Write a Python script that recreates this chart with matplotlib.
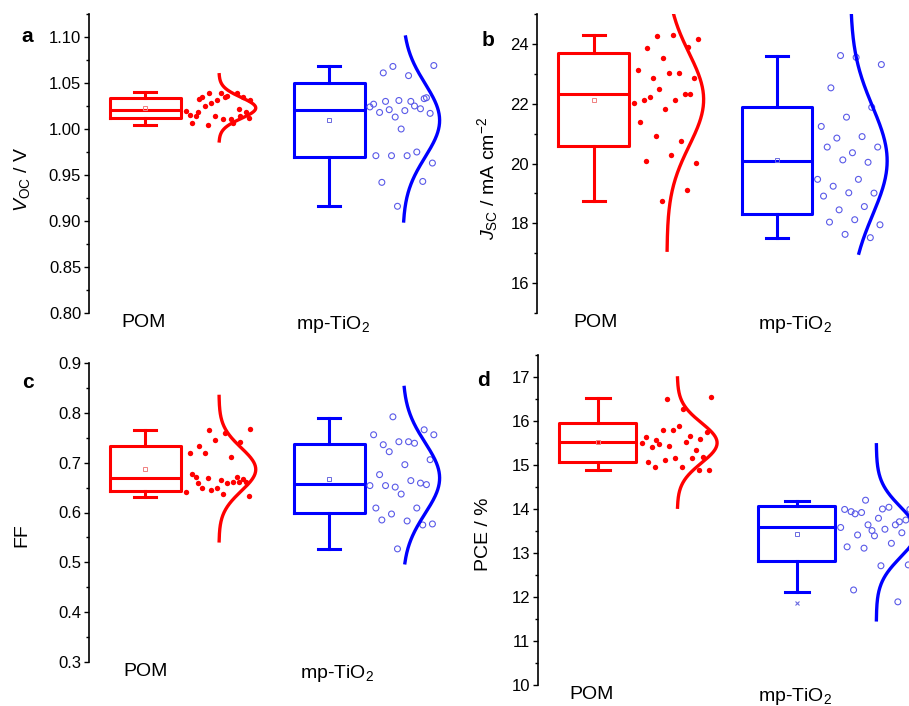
import numpy as np
import matplotlib
matplotlib.use('Agg')
import matplotlib.pyplot as plt
from matplotlib.ticker import MultipleLocator, FormatStrFormatter

plt.rcParams['font.family'] = ['Liberation Sans', 'DejaVu Sans']
plt.rcParams['mathtext.fontset'] = 'custom'
plt.rcParams['mathtext.rm'] = 'Liberation Sans'
plt.rcParams['mathtext.it'] = 'Liberation Sans:italic'
plt.rcParams['mathtext.bf'] = 'Liberation Sans:bold'

categories = ['POM', 'mp-TiO$_2$']

# device data
voc_pom = [1.039, 1.031, 1.035, 1.033, 1.014, 1.014, 1.015, 1.011, 1.025, 1.019, 1.039, 1.014, 1.039,
           1.028, 1.020, 1.036, 1.035, 1.035, 1.031, 1.007, 1.007, 1.004, 1.012, 1.011, 1.019, 1.022]
voc_tio2 = [1.068, 1.069, 1.058, 1.061, 1.033, 1.031, 1.027, 1.025, 1.021, 1.017, 1.020, 1.018, 1.022, 1.013,
            1.024, 1.030, 1.030, 1.034, 1.000, 0.971, 0.975, 0.971, 0.963, 0.971, 0.942, 0.943, 0.916]
jsc_pom = [24.28, 24.17, 24.30, 23.86, 23.89, 23.52, 23.14, 23.03, 22.86, 22.86, 23.03, 22.14, 22.33, 22.50,
           22.03, 22.11, 22.24, 22.33, 21.83, 21.40, 20.74, 20.91, 20.01, 20.28, 20.08, 19.13, 18.73]
jsc_tio2 = [23.61, 23.31, 23.55, 22.53, 21.88, 21.55, 21.24, 20.90, 20.85, 20.55, 20.36, 20.55, 20.04, 20.12,
            19.47, 19.47, 19.24, 19.01, 19.02, 18.91, 18.56, 18.45, 17.95, 18.12, 18.04, 17.52, 17.63]
ff_pom = [0.766, 0.768, 0.759, 0.734, 0.742, 0.746, 0.720, 0.712, 0.720, 0.661, 0.666, 0.671, 0.671,
          0.645, 0.641, 0.659, 0.649, 0.667, 0.649, 0.678, 0.661, 0.669, 0.633, 0.637, 0.660, 0.662]
ff_tio2 = [0.792, 0.756, 0.742, 0.736, 0.766, 0.742, 0.756, 0.739, 0.722, 0.706, 0.696, 0.676, 0.659, 0.651,
           0.654, 0.664, 0.654, 0.656, 0.637, 0.609, 0.609, 0.597, 0.577, 0.583, 0.585, 0.575, 0.527]
pce_pom = [16.50, 16.55, 16.27, 15.57, 15.59, 15.80, 15.64, 15.65, 15.79, 15.76, 15.88, 15.40, 15.35,
           15.44, 15.50, 15.52, 15.48, 15.18, 15.17, 15.06, 15.17, 15.12, 14.88, 14.95, 14.95, 14.88]
pce_tio2 = [14.20, 13.99, 14.00, 13.89, 13.71, 13.51, 13.99, 14.04, 13.92, 13.75, 13.79, 13.94, 13.64,
            13.64, 13.58, 13.54, 13.41, 13.46, 13.39, 13.14, 13.22, 13.11, 12.73, 12.71, 12.16, 11.89]

# box stats: q1, median, q3, whisker low, whisker high, mean
box_voc = [(1.012, 1.021, 1.034, 1.004, 1.040, 1.023), (0.970, 1.021, 1.050, 0.916, 1.069, 1.010)]
box_jsc = [(20.60, 22.33, 23.69, 18.73, 24.30, 22.14), (18.32, 20.08, 21.88, 17.52, 23.61, 20.12)]
box_ff = [(0.643, 0.670, 0.733, 0.631, 0.766, 0.688), (0.598, 0.657, 0.738, 0.527, 0.790, 0.668)]
box_pce = [(15.06, 15.53, 15.95, 14.88, 16.53, 15.52), (12.81, 13.59, 14.06, 12.11, 14.19, 13.43)]
fliers_pce = [[], [11.87]]

# y span of the normal curves
curve_voc = [(0.987, 1.059), (0.900, 1.100)]
curve_jsc = [(17.1, 27.0), (17.0, 27.0)]
curve_ff = [(0.543, 0.833), (0.499, 0.851)]
curve_pce = [(14.04, 16.98), (11.48, 15.46)]

W, H = 909, 706
fig = plt.figure(figsize=(W / 100, H / 100), dpi=100)


def add_axes(left, top, right, bottom):
    return fig.add_axes([left / W, 1 - bottom / H, (right - left) / W, (bottom - top) / H])


def jitter(n):
    k = np.arange(n)
    return 0.22 + 0.36 * ((k * 0.618034 + 0.35) % 1.0)


colors = ['#ff0000', '#0000ff']
mean_colors = ['#f08080', '#6a6ae0']


def draw_panel(ax, groups, boxes, curves, fliers, ylim, major, minor, fmt, xlim, label_x):
    for i, (vals, st, cr) in enumerate(zip(groups, boxes, curves)):
        pos = i + 1
        c = colors[i]
        q1, med, q3, lo, hi, mean = st
        stats = dict(q1=q1, med=med, q3=q3, whislo=lo, whishi=hi, mean=mean, fliers=fliers[i])
        lp = dict(color=c, lw=2.2)
        ax.bxp([stats], positions=[pos], widths=0.386, capwidths=0.12, showmeans=True,
               showfliers=True, manage_ticks=False, boxprops=lp, whiskerprops=lp,
               capprops=lp, medianprops=lp,
               meanprops=dict(marker='s', markersize=3, markerfacecolor='none',
                              markeredgecolor=mean_colors[i], markeredgewidth=0.7),
               flierprops=dict(marker='x', markersize=3.5, markeredgecolor=mean_colors[i],
                               markeredgewidth=0.8))
        v = np.array(vals)
        x = pos + jitter(len(v))
        if i == 0:
            ax.scatter(x, v, s=15, c=c, linewidths=0, zorder=2)
        else:
            ax.scatter(x, v, s=18, facecolors='none', edgecolors='#5a5ae8', linewidths=0.8, zorder=2)
        m, s = v.mean(), v.std(ddof=1)
        yy = np.linspace(cr[0], cr[1], 300)
        g = np.exp(-0.5 * ((yy - m) / s) ** 2)
        ax.plot(pos + 0.40 + 0.20 * g, yy, color=c, lw=2.4, zorder=3)

    ax.set_xlim(*xlim)
    ax.set_ylim(*ylim)
    for side in ['top', 'right', 'bottom']:
        ax.spines[side].set_visible(False)
    ax.spines['left'].set_linewidth(1.2)
    ax.yaxis.set_major_locator(MultipleLocator(major))
    ax.yaxis.set_minor_locator(MultipleLocator(minor))
    ax.yaxis.set_major_formatter(FormatStrFormatter(fmt))
    ax.tick_params(axis='y', which='major', direction='out', length=3.6, width=1.0, labelsize=12, pad=2)
    ax.tick_params(axis='y', which='minor', direction='out', length=2.2, width=1.0)
    ax.set_xticks(label_x, categories)
    ax.tick_params(axis='x', length=0, labelsize=14, pad=1)


ax_a = add_axes(89, 14, 458, 313)
draw_panel(ax_a, [voc_pom, voc_tio2], box_voc, curve_voc, [[], []], (0.80, 1.125), 0.05, 0.025, '%.2f',
           (0.693, 2.7), [0.99, 2.02])
ax_b = add_axes(537, 14, 905.5, 313)
draw_panel(ax_b, [jsc_pom, jsc_tio2], box_jsc, curve_jsc, [[], []], (15, 25), 2, 1, '%d', (0.692, 2.7),
           [1.01, 2.10])
ax_c = add_axes(89, 363, 458, 662)
draw_panel(ax_c, [ff_pom, ff_tio2], box_ff, curve_ff, [[], []], (0.3, 0.9), 0.1, 0.05, '%.1f', (0.693, 2.7),
           [1.0, 2.04])
ax_d = add_axes(538, 355, 936, 685)
draw_panel(ax_d, [pce_pom, pce_tio2], box_pce, curve_pce, fliers_pce, (10, 17.5), 1, 0.5, '%d', (0.70, 2.7),
           [0.97, 1.99])

# panel letters
for letter, x, y in [('a', 27, 37), ('b', 488, 40), ('c', 28, 383), ('d', 483, 381)]:
    fig.text(x / W, 1 - y / H, letter, fontsize=15, fontweight='bold', ha='center', va='center')

# y labels
for lab, x, y in [(r'$V_{\mathrm{OC}}$ / V', 22, 179), (r'$J_{\mathrm{SC}}$ / mA cm$^{-2}$', 488, 178),
                  ('FF', 22, 535), ('PCE / %', 484, 534)]:
    fig.text(x / W, 1 - y / H, lab, fontsize=14, rotation=90, ha='center', va='center')

fig.savefig('out.png', dpi=100)
